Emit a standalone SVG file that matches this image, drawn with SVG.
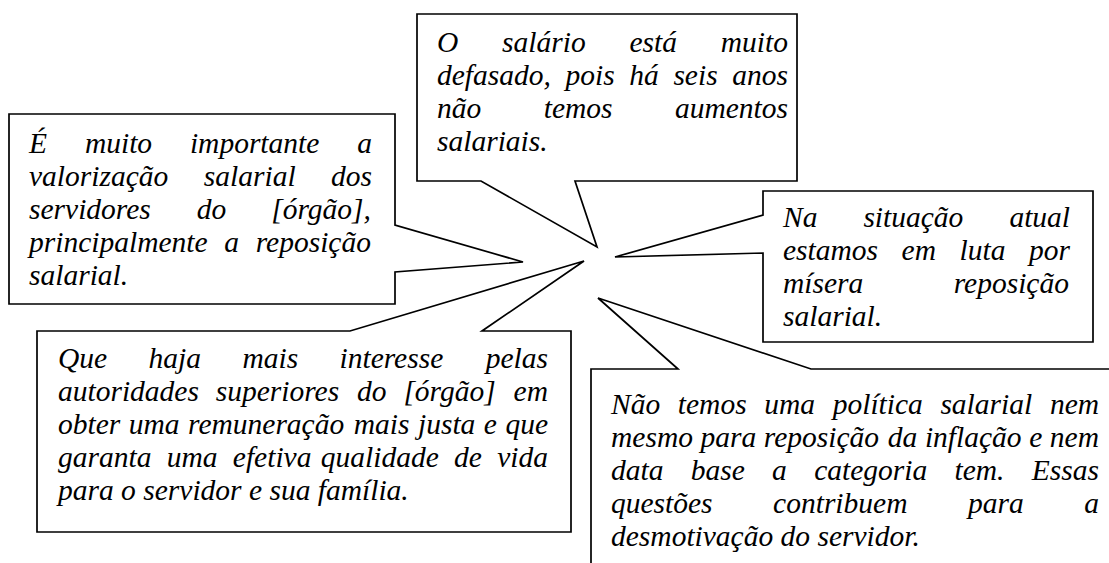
<svg xmlns="http://www.w3.org/2000/svg" width="1109" height="563" viewBox="0 0 1109 563">
<rect width="1109" height="563" fill="#fff"/>
<g id="connectors"></g>
<g id="node-a">
<path fill="#fff" stroke="#000" stroke-width="1.7" d="M417,14 H797 V181 H575 L597,247 L481,181 H417 Z"/>
<text style="font-family:'Liberation Serif',serif;font-style:italic;font-size:29.5px" y="52"><tspan x="437">O</tspan><tspan x="502.1">salário</tspan><tspan x="629.5">está</tspan><tspan x="720.8">muito</tspan></text>
<text style="font-family:'Liberation Serif',serif;font-style:italic;font-size:29.5px" y="85"><tspan x="437">defasado,</tspan><tspan x="565.5">pois</tspan><tspan x="629.3">há</tspan><tspan x="673.4">seis</tspan><tspan x="732.3">anos</tspan></text>
<text style="font-family:'Liberation Serif',serif;font-style:italic;font-size:29.5px" y="118"><tspan x="437">não</tspan><tspan x="543.7">temos</tspan><tspan x="674.9">aumentos</tspan></text>
<text style="font-family:'Liberation Serif',serif;font-style:italic;font-size:29.5px" x="437" y="151">salariais.</text>
</g>
<g id="node-b">
<path fill="#fff" stroke="#000" stroke-width="1.7" d="M9,114 H395 V225 L523,262 L395,272 V304 H9 Z"/>
<text style="font-family:'Liberation Serif',serif;font-style:italic;font-size:29.5px" y="153"><tspan x="29">É</tspan><tspan x="84.9">muito</tspan><tspan x="189.9">importante</tspan><tspan x="357.3">a</tspan></text>
<text style="font-family:'Liberation Serif',serif;font-style:italic;font-size:29.5px" y="186"><tspan x="29">valorização</tspan><tspan x="203.8">salarial</tspan><tspan x="331">dos</tspan></text>
<text style="font-family:'Liberation Serif',serif;font-style:italic;font-size:29.5px" y="219"><tspan x="29">servidores</tspan><tspan x="196.8">do</tspan><tspan x="271.2">[órgão],</tspan></text>
<text style="font-family:'Liberation Serif',serif;font-style:italic;font-size:29.5px" y="252"><tspan x="29">principalmente</tspan><tspan x="224.3">a</tspan><tspan x="255.7">reposição</tspan></text>
<text style="font-family:'Liberation Serif',serif;font-style:italic;font-size:29.5px" x="29" y="285">salarial.</text>
</g>
<g id="node-c">
<path fill="#fff" stroke="#000" stroke-width="1.7" d="M763,191 H1093 V342 H763 V253 L615,257 L763,215 Z"/>
<text style="font-family:'Liberation Serif',serif;font-style:italic;font-size:29.5px" y="227"><tspan x="783">Na</tspan><tspan x="863.4">situação</tspan><tspan x="1009.4">atual</tspan></text>
<text style="font-family:'Liberation Serif',serif;font-style:italic;font-size:29.5px" y="260"><tspan x="783">estamos</tspan><tspan x="901.6">em</tspan><tspan x="959.6">luta</tspan><tspan x="1029">por</tspan></text>
<text style="font-family:'Liberation Serif',serif;font-style:italic;font-size:29.5px" y="293"><tspan x="783">mísera</tspan><tspan x="953.7">reposição</tspan></text>
<text style="font-family:'Liberation Serif',serif;font-style:italic;font-size:29.5px" x="783" y="326">salarial.</text>
</g>
<g id="node-e">
<path fill="#fff" stroke="#000" stroke-width="1.7" d="M37,331 H350 L584,261 L482,331 H571 V532 H37 Z"/>
<text style="font-family:'Liberation Serif',serif;font-style:italic;font-size:29.5px" y="368"><tspan x="58">Que</tspan><tspan x="148.5">haja</tspan><tspan x="242.4">mais</tspan><tspan x="339.5">interesse</tspan><tspan x="485.7">pelas</tspan></text>
<text style="font-family:'Liberation Serif',serif;font-style:italic;font-size:29.5px" y="401"><tspan x="58">autoridades</tspan><tspan x="215.7">superiores</tspan><tspan x="357.1">do</tspan><tspan x="403.4">[órgão]</tspan><tspan x="513.6">em</tspan></text>
<text style="font-family:'Liberation Serif',serif;font-style:italic;font-size:29.5px" y="434"><tspan x="58">obter</tspan><tspan x="128.7">uma</tspan><tspan x="188">remuneração</tspan><tspan x="353.8">mais</tspan><tspan x="418">justa</tspan><tspan x="483.8">e</tspan><tspan x="505.4">que</tspan></text>
<text style="font-family:'Liberation Serif',serif;font-style:italic;font-size:29.5px" y="467"><tspan x="58">garanta</tspan><tspan x="166.7">uma</tspan><tspan x="232.8">efetiva</tspan><tspan x="320.8">qualidade</tspan><tspan x="454.1">de</tspan><tspan x="497.2">vida</tspan></text>
<text style="font-family:'Liberation Serif',serif;font-style:italic;font-size:29.5px" x="58" y="500">para o servidor e sua família.</text>
</g>
<g id="node-d">
<path fill="#fff" stroke="#000" stroke-width="1.7" d="M591,575 V369 H678 L598,298 L811,369 H1120 V575 Z"/>
<text style="font-family:'Liberation Serif',serif;font-style:italic;font-size:29.5px" y="414"><tspan x="611">Não</tspan><tspan x="677.8">temos</tspan><tspan x="764.2">uma</tspan><tspan x="832.7">política</tspan><tspan x="940.4">salarial</tspan><tspan x="1049.9">nem</tspan></text>
<text style="font-family:'Liberation Serif',serif;font-style:italic;font-size:29.5px" y="447"><tspan x="611">mesmo</tspan><tspan x="700.5">para</tspan><tspan x="763.8">reposição</tspan><tspan x="887.8">da</tspan><tspan x="924.9">inflação</tspan><tspan x="1029.2">e</tspan><tspan x="1049.8">nem</tspan></text>
<text style="font-family:'Liberation Serif',serif;font-style:italic;font-size:29.5px" y="480"><tspan x="611">data</tspan><tspan x="690.8">base</tspan><tspan x="772.1">a</tspan><tspan x="814.2">categoria</tspan><tspan x="954.5">tem.</tspan><tspan x="1031.8">Essas</tspan></text>
<text style="font-family:'Liberation Serif',serif;font-style:italic;font-size:29.5px" y="513"><tspan x="611">questões</tspan><tspan x="773.1">contribuem</tspan><tspan x="968">para</tspan><tspan x="1084.3">a</tspan></text>
<text style="font-family:'Liberation Serif',serif;font-style:italic;font-size:29.5px" x="611" y="546">desmotivação do servidor.</text>
</g>
</svg>
